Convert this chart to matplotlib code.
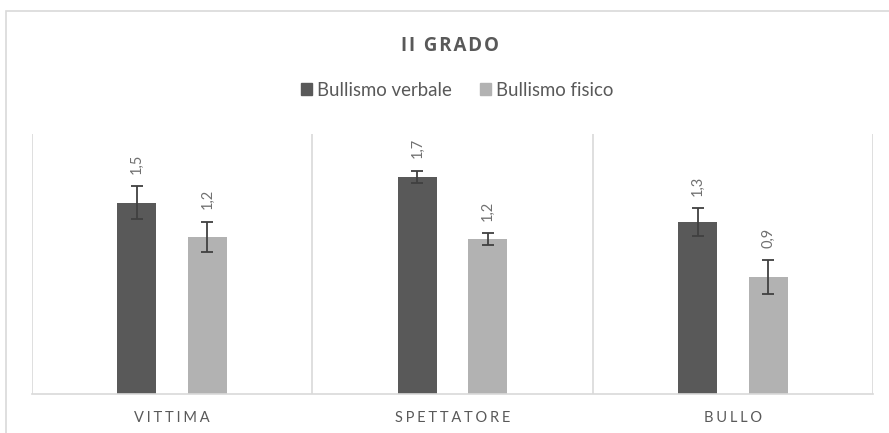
import numpy as np
import matplotlib.pyplot as plt
from matplotlib.patches import Rectangle, Patch

categories = ["VITTIMA", "SPETTATORE", "BULLO"]
series_names = ["Bullismo verbale", "Bullismo fisico"]
verbale = [1.47, 1.67, 1.32]
fisico = [1.21, 1.19, 0.90]
verbale_err = [0.127, 0.046, 0.108]
fisico_err = [0.115, 0.046, 0.127]
verbale_labels = ["1,5", "1,7", "1,3"]
fisico_labels = ["1,2", "1,2", "0,9"]

DARK = "#595959"
LIGHT = "#b2b2b2"
GRID = "#d9d9d9"
TEXT = "#595959"

plt.rcParams['font.family'] = ['Lato', 'DejaVu Sans']

fig = plt.figure(figsize=(8.89, 4.33), dpi=100)
ax = fig.add_axes([32 / 889, 1 - 394 / 433, (873 - 32) / 889, 260 / 433])

x = np.arange(len(categories))
offset = 0.126
width = 0.139

def spaced(s, sep="\u2009"):
    return sep.join(s)

for vals, errs, labels, color, sign in [
        (verbale, verbale_err, verbale_labels, DARK, -1),
        (fisico, fisico_err, fisico_labels, LIGHT, 1)]:
    pos = x + sign * offset
    ax.bar(pos, vals, width, color=color, zorder=2)
    ax.errorbar(pos, vals, yerr=errs, fmt="none", ecolor="#404040",
                elinewidth=1.3, capsize=4.5, capthick=1.3, zorder=3)
    for p, v, e, lab in zip(pos, vals, errs, labels):
        ax.annotate(lab, (p, v + e), xytext=(0, 9), textcoords="offset points",
                    rotation=90, ha="center", va="bottom", fontsize=10.5, color="#707070")

for b in [-0.5, 0.5, 1.5, 2.5]:
    ax.axvline(b, color=GRID, lw=1.2, zorder=1)

ax.set_xlim(-0.5, 2.5)
ax.set_ylim(0, 2)
for s in ["top", "left", "right"]:
    ax.spines[s].set_visible(False)
ax.spines["bottom"].set_color(GRID)
ax.spines["bottom"].set_linewidth(1.2)
ax.set_yticks([])
ax.set_xticks(x)
ax.set_xticklabels([spaced(c, "\u2009\u200a") for c in categories], fontsize=10.5, color=TEXT)
ax.tick_params(axis="x", length=0, pad=12)

fig.text(450 / 889, 1 - 46 / 433, spaced("II GRADO", "\u200a"), ha="center", va="center",
         fontsize=13.5, fontweight="bold", color=TEXT, family=["Open Sans", "DejaVu Sans"])

handles = [Patch(color=DARK), Patch(color=LIGHT)]
fig.legend(handles, series_names, loc="center", bbox_to_anchor=(457 / 889, 1 - 90 / 433),
           ncol=2, frameon=False, fontsize=13.4, handlelength=0.6, handleheight=0.6,
           handletextpad=0.25, columnspacing=1.5, labelcolor=TEXT)

fig.patches.append(Rectangle((6 / 889, -0.1), 1.0, 1.1 - 11 / 433, transform=fig.transFigure,
                             fill=False, edgecolor=GRID, lw=1.2))

fig.savefig("out.png", dpi=100)
